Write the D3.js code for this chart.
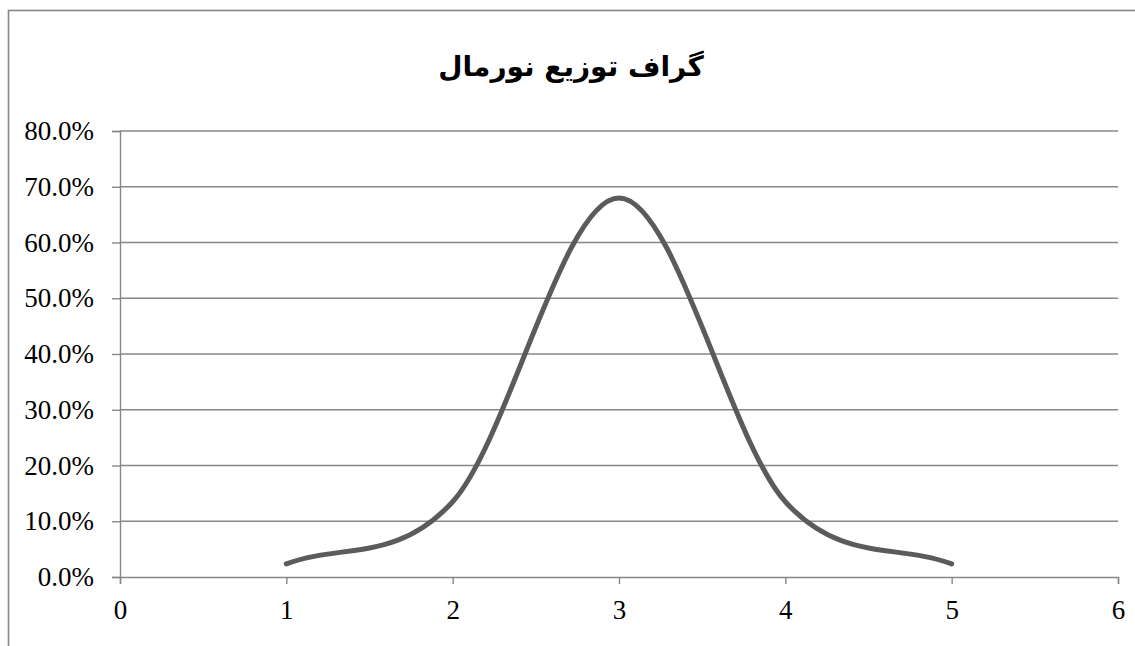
<!DOCTYPE html>
<html>
<head>
<meta charset="utf-8">
<script src="https://cdn.jsdelivr.net/npm/d3@7"></script>
<style>
  html, body { margin: 0; padding: 0; background: #fff; }
  svg { display: block; }
</style>
</head>
<body>
<svg id="chart" width="1135" height="646"></svg>
<script>
// ---- Data ----
const title = "گراف توزیع نورمال";
const xValues = [1, 2, 3, 4, 5];
const yValues = [0.0235, 0.135, 0.68, 0.135, 0.0235];
const xTicks = [0, 1, 2, 3, 4, 5, 6];
const yTicks = [0, 0.1, 0.2, 0.3, 0.4, 0.5, 0.6, 0.7, 0.8];

const svg = d3.select("#chart");
const plot = { left: 120, right: 1118, top: 131, bottom: 577 };
const gridColor = "#878787";
const labelFont = "'Liberation Serif', 'Times New Roman', serif";

// outer chart frame (extends beyond the picture on right and bottom)
svg.append("rect")
  .attr("x", 8.5).attr("y", 10.5)
  .attr("width", 1300).attr("height", 800)
  .attr("fill", "#fff")
  .attr("stroke", gridColor).attr("stroke-width", 1.6);

const x = d3.scaleLinear().domain([0, 6]).range([plot.left, plot.right]);
const y = d3.scaleLinear().domain([0, 0.8]).range([plot.bottom, plot.top]);

// horizontal gridlines
svg.append("g").selectAll("line")
  .data(yTicks.filter(d => d > 0))
  .join("line")
  .attr("x1", plot.left).attr("x2", plot.right)
  .attr("y1", d => y(d)).attr("y2", d => y(d))
  .attr("stroke", gridColor).attr("stroke-width", 1.4);

// y axis
const yAxis = d3.axisLeft(y).tickValues(yTicks)
  .tickFormat(d3.format(".1%")).tickSize(8).tickPadding(18);
const gy = svg.append("g").attr("transform", `translate(${plot.left},0)`).call(yAxis);
gy.select(".domain").attr("stroke", gridColor).attr("stroke-width", 1.4);
gy.selectAll(".tick line").attr("stroke", gridColor).attr("stroke-width", 1.4);
gy.selectAll(".tick text")
  .attr("font-family", labelFont).attr("font-size", 27).attr("fill", "#000");

// x axis
const xAxis = d3.axisBottom(x).tickValues(xTicks)
  .tickFormat(d3.format("d")).tickSize(7).tickPadding(16);
const gx = svg.append("g").attr("transform", `translate(0,${plot.bottom})`).call(xAxis);
gx.select(".domain").attr("stroke", gridColor).attr("stroke-width", 1.4);
gx.selectAll(".tick line").attr("stroke", gridColor).attr("stroke-width", 1.4);
gx.selectAll(".tick text")
  .attr("font-family", labelFont).attr("font-size", 27).attr("fill", "#000");

// Excel-style smoothed line: Bezier segments, interior tangents (P[i+1]-P[i-1])/6,
// end tangents (P[1]-P[0])/3
function smoothPath(p) {
  const path = d3.path();
  path.moveTo(p[0][0], p[0][1]);
  const n = p.length;
  for (let i = 0; i < n - 1; i++) {
    const a = p[i], b = p[i + 1];
    let c1, c2;
    if (i === 0) c1 = [a[0] + (b[0] - a[0]) / 3, a[1] + (b[1] - a[1]) / 3];
    else c1 = [a[0] + (b[0] - p[i - 1][0]) / 6, a[1] + (b[1] - p[i - 1][1]) / 6];
    if (i === n - 2) c2 = [b[0] - (b[0] - a[0]) / 3, b[1] - (b[1] - a[1]) / 3];
    else c2 = [b[0] - (p[i + 2][0] - a[0]) / 6, b[1] - (p[i + 2][1] - a[1]) / 6];
    path.bezierCurveTo(c1[0], c1[1], c2[0], c2[1], b[0], b[1]);
  }
  return path.toString();
}
const pts = xValues.map((v, i) => [x(v), y(yValues[i])]);
svg.append("path")
  .attr("d", smoothPath(pts))
  .attr("fill", "none")
  .attr("stroke", "#5b5b5b")
  .attr("stroke-width", 5)
  .attr("stroke-linecap", "round")
  .attr("stroke-linejoin", "round");

// title
svg.append("text")
  .attr("x", 571).attr("y", 76)
  .attr("text-anchor", "middle")
  .attr("direction", "rtl")
  .attr("font-family", "'DejaVu Sans', 'Noto Sans', serif")
  .attr("font-weight", "bold")
  .attr("font-size", 28)
  .attr("fill", "#000")
  .text(title);
</script>
</body>
</html>
